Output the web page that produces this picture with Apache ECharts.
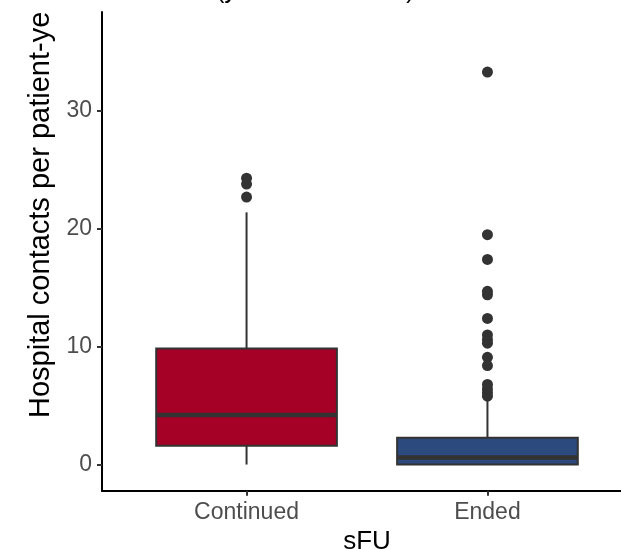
<!DOCTYPE html>
<html>
<head>
<meta charset="utf-8">
<script src="https://cdn.jsdelivr.net/npm/echarts@6/dist/echarts.min.js"></script>
<style>
html,body{margin:0;padding:0;background:#fff;}
#chart{width:621px;height:549px;}
</style>
</head>
<body>
<div id="chart"></div>
<script>
// ---- data ----
const categories = ['Continued', 'Ended'];
const boxMin    = [0, 0];
const boxQ1     = [1.6, 0];
const boxMedian = [4.2, 0.6];
const boxQ3     = [9.85, 2.27];
const boxMax    = [21.4, 5.5];
const outliersContinued = [22.7, 23.8, 24.3];
const outliersEnded = [5.8, 6.1, 6.4, 6.8, 8.4, 9.1, 10.3, 10.6, 11.0, 12.4, 14.4, 14.7, 17.4, 19.5, 33.3];
const yTicks = [0, 10, 20, 30];
const titleText = '(years since start)';
const yTitle = 'Hospital contacts per patient-ye';
const xTitle = 'sFU';

// ---- styles ----
const fills = ['#A50026', '#2C4A7D'];
const edge = '#333333';

const boxData = categories.map((c, i) => [i + 1, boxMin[i], boxQ1[i], boxMedian[i], boxQ3[i], boxMax[i]]);
const outlierData = [];
outliersContinued.forEach(v => outlierData.push([1, v]));
outliersEnded.forEach(v => outlierData.push([2, v]));

const chart = echarts.init(document.getElementById('chart'), null, {renderer: 'canvas'});
chart.setOption({
  animation: false,
  backgroundColor: '#ffffff',
  title: {
    text: titleText,
    left: 216,
    top: -21,
    padding: 0,
    textStyle: {fontFamily: 'Liberation Sans', fontSize: 25, fontWeight: 'normal', color: '#000'}
  },
  grid: {left: 102, top: 12, width: 530, height: 478.7, containLabel: false, outerBoundsMode: 'none'},
  xAxis: {
    type: 'value',
    min: 0.4,
    max: 2.6,
    name: xTitle,
    nameLocation: 'middle',
    nameGap: 36,
    nameTextStyle: {fontFamily: 'Liberation Sans', fontSize: 26, color: '#000'},
    axisLine: {show: true, onZero: false, lineStyle: {color: '#000', width: 2}},
    axisTick: {show: true, length: 5, customValues: [1, 2], lineStyle: {color: edge, width: 2}},
    axisLabel: {
      customValues: [1, 2],
      formatter: v => categories[Math.round(v) - 1],
      margin: 10,
      fontFamily: 'Liberation Sans', fontSize: 23, color: '#4D4D4D'
    },
    splitLine: {show: false}
  },
  yAxis: {
    type: 'value',
    min: -2.22,
    max: 38.4,
    name: yTitle,
    nameLocation: 'middle',
    nameRotate: 90,
    nameGap: 46,
    nameTextStyle: {fontFamily: 'Liberation Sans', fontSize: 29, color: '#000', padding: [0, 0, 0, 73]},
    axisLine: {show: true, onZero: false, lineStyle: {color: '#000', width: 2}},
    axisTick: {show: true, length: 5, customValues: yTicks, lineStyle: {color: edge, width: 2}},
    axisLabel: {
      customValues: yTicks,
      margin: 10,
      fontFamily: 'Liberation Sans', fontSize: 23, color: '#4D4D4D'
    },
    splitLine: {show: false}
  },
  series: [
    {
      type: 'custom',
      data: boxData,
      encode: {x: 0, y: [1, 2, 3, 4, 5]},
      renderItem: function (params, api) {
        const x = api.value(0);
        const lo = api.coord([x, api.value(1)]);
        const q1 = api.coord([x, api.value(2)]);
        const med = api.coord([x, api.value(3)]);
        const q3 = api.coord([x, api.value(4)]);
        const hi = api.coord([x, api.value(5)]);
        const bw = api.size([1, 0])[0] * 0.75;
        const cx = q1[0];
        return {
          type: 'group',
          children: [
            {type: 'line', shape: {x1: cx, y1: lo[1], x2: cx, y2: q1[1]}, style: {stroke: edge, lineWidth: 2}},
            {type: 'line', shape: {x1: cx, y1: q3[1], x2: cx, y2: hi[1]}, style: {stroke: edge, lineWidth: 2}},
            {type: 'rect', shape: {x: cx - bw / 2, y: q3[1], width: bw, height: q1[1] - q3[1]},
              style: {fill: fills[params.dataIndex], stroke: edge, lineWidth: 2}},
            {type: 'line', shape: {x1: cx - bw / 2, y1: med[1], x2: cx + bw / 2, y2: med[1]},
              style: {stroke: edge, lineWidth: 4.5}}
          ]
        };
      },
      z: 2
    },
    {
      type: 'scatter',
      data: outlierData,
      symbol: 'circle',
      symbolSize: 11,
      itemStyle: {color: edge, opacity: 1},
      z: 3
    }
  ]
});
</script>
</body>
</html>
